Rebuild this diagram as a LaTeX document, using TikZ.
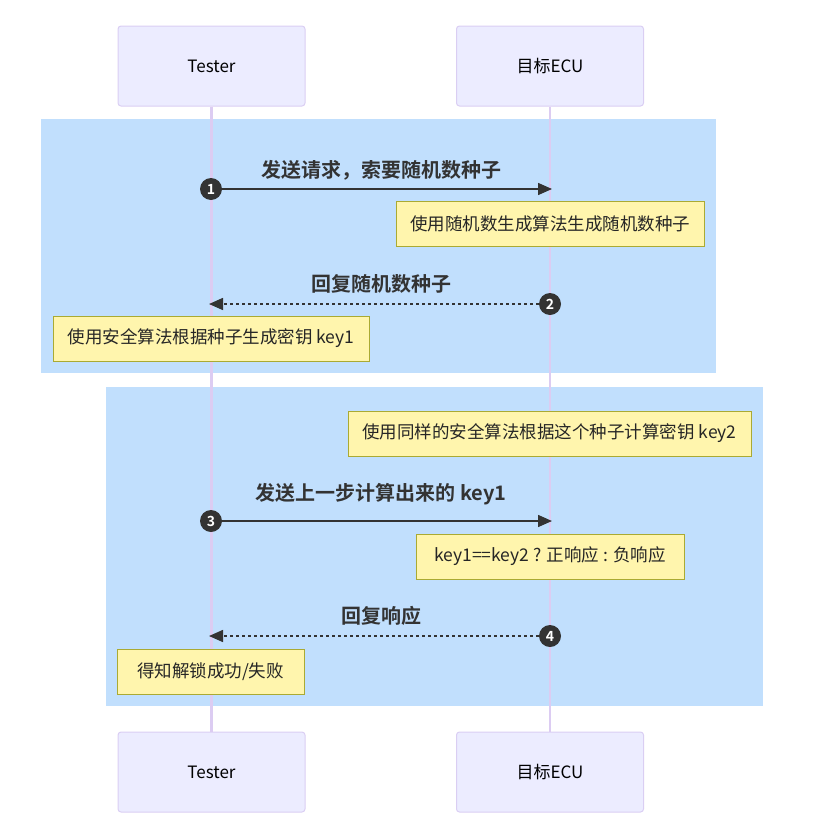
\documentclass[tikz,border=0pt]{standalone}
\usepackage{fontspec}
\setmainfont{Noto Sans CJK SC}[BoldFont={Noto Sans CJK SC Bold}]
\usetikzlibrary{arrows.meta}

\definecolor{actorfill}{HTML}{ECECFF}
\definecolor{actorline}{HTML}{DACEF3}
\definecolor{lifecol}{HTML}{DCCCF2}
\definecolor{rectfill}{HTML}{C1DFFD}
\definecolor{notefill}{HTML}{FFF5AD}
\definecolor{noteline}{HTML}{AAAA33}
\definecolor{msgcol}{HTML}{333333}

\tikzset{
  actor/.style={draw=actorline, fill=actorfill, line width=1pt, rounded corners=3pt,
    minimum width=187pt, minimum height=80pt, font=\fontsize{17}{20}\selectfont},
  lifeline/.style={draw=lifecol, line width=2.5pt},
  note/.style={draw=noteline, fill=notefill, line width=1pt, minimum height=45pt,
    inner xsep=0pt, font=\fontsize{17.5}{21}\selectfont, text=black!85},
  msg/.style={draw=msgcol, line width=1.5pt, -{Triangle[length=14pt,width=12pt]}},
  reply/.style={msg, dash pattern=on 3pt off 3pt},
  seqnum/.style={circle, fill=msgcol, text=white, inner sep=0pt, minimum size=22pt,
    font=\fontsize{14}{14}\selectfont\bfseries},
  msglabel/.style={text=msgcol, font=\fontsize{20}{24}\selectfont\bfseries},
}

\begin{document}
\begin{tikzpicture}[x=1pt, y=-1pt]
  \useasboundingbox (0,0) rectangle (815,825);

  % Background rectangles
  \fill[rectfill] (41,119) rectangle (716,373);
  \fill[rectfill] (106,387) rectangle (763,706);

  % Actors
  \node[actor] (t1) at (211.5,66) {Tester};
  \node[actor] (e1) at (550,66) {目标ECU};
  \node[actor] (t2) at (211.5,772) {Tester};
  \node[actor] (e2) at (550,772) {目标ECU};

  % Lifelines
  \draw[lifeline] (t1) -- (t2);
  \draw[lifeline] (e1) -- (e2);

  % Message 1: request seed
  \node[msglabel] (l1) at (381,170) {发送请求，索要随机数种子};
  \coordinate (m1) at (552,189);
  \draw[msg] (211,189) -- (m1);
  \node[seqnum] (s1) at (211,189) {1};
  \node[note, minimum width=308pt] (n1) at (550,224) {使用随机数生成算法生成随机数种子};

  % Message 2: reply seed
  \node[msglabel] (l2) at (381,284) {回复随机数种子};
  \coordinate (m2) at (209,304);
  \node[seqnum] (s2) at (550,304) {2};
  \draw[reply] (s2) -- (m2);
  \node[note, minimum width=316pt] (n2) at (211,338.5) {使用安全算法根据种子生成密钥 key1};

  % ECU computes key2
  \node[note, minimum width=403pt] (n3) at (549.5,433.5) {使用同样的安全算法根据这个种子计算密钥 key2};

  % Message 3: send key1
  \node[msglabel] (l3) at (381,494) {发送上一步计算出来的 key1};
  \coordinate (m3) at (552,521);
  \draw[msg] (211,521) -- (m3);
  \node[seqnum] (s3) at (211,521) {3};
  \node[note, minimum width=268pt] (n4) at (550,556.5) {key1==key2 ? 正响应 : 负响应};

  % Message 4: reply response
  \node[msglabel] (l4) at (381,616) {回复响应};
  \coordinate (m4) at (209,636);
  \node[seqnum] (s4) at (550,636) {4};
  \draw[reply] (s4) -- (m4);
  \node[note, minimum width=187pt] (n5) at (210.5,672) {得知解锁成功/失败};
\end{tikzpicture}
\end{document}
